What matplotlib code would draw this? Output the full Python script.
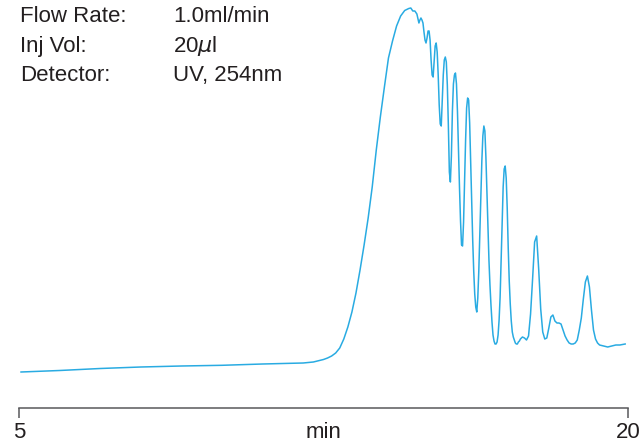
import matplotlib
matplotlib.use('Agg')
from matplotlib import pyplot as plt

plt.rcParams['font.family'] = ['Liberation Sans', 'DejaVu Sans']

# retention time (min)
time_min = [5.05, 6.0, 7.0, 8.0, 9.0, 10.0, 11.0, 11.5, 12.0, 12.25,
            12.5, 12.6, 12.7, 12.8, 12.9, 13.0, 13.1, 13.2, 13.3, 13.4,
            13.5, 13.6, 13.7, 13.8, 13.9, 14.0, 14.1, 14.2, 14.3, 14.4,
            14.5, 14.6, 14.65, 14.7, 14.75, 14.8,
            14.85, 14.875, 14.9, 14.925, 14.95, 14.975, 15.0, 15.025, 15.05, 15.075,
            15.1, 15.125, 15.15, 15.175, 15.2, 15.225, 15.25, 15.275, 15.3, 15.325,
            15.35, 15.375, 15.4, 15.425, 15.45, 15.475, 15.5, 15.525, 15.55, 15.575,
            15.6, 15.625, 15.65, 15.675, 15.7, 15.725, 15.75, 15.775, 15.8, 15.825,
            15.85, 15.875, 15.9, 15.925, 15.95, 15.975, 16.0, 16.025, 16.05, 16.075,
            16.1, 16.125, 16.15, 16.175, 16.2, 16.225, 16.25, 16.275, 16.3, 16.325,
            16.35, 16.375, 16.4, 16.425, 16.45, 16.475, 16.5, 16.525, 16.55, 16.575,
            16.6, 16.625, 16.65, 16.675, 16.7, 16.725, 16.75, 16.775, 16.8, 16.825,
            16.85, 16.875, 16.9, 16.925, 16.95, 16.975, 17.0, 17.025, 17.05, 17.075,
            17.1, 17.125, 17.15, 17.175, 17.2, 17.225, 17.25, 17.275, 17.3, 17.325,
            17.35, 17.4, 17.45, 17.5, 17.55, 17.6, 17.65, 17.7, 17.75, 17.8,
            17.85, 17.9, 17.95, 18.0, 18.05, 18.1, 18.15, 18.2, 18.25, 18.3,
            18.35, 18.4, 18.45, 18.5, 18.55, 18.6, 18.65, 18.7, 18.75, 18.8,
            18.85, 18.9, 18.95, 19.0, 19.05, 19.1, 19.15, 19.2, 19.25, 19.3,
            19.4, 19.5, 19.6, 19.7, 19.8, 19.93]
# UV 254nm response (arbitrary units)
signal = [36, 37.5, 39.5, 41, 42, 42.7, 44, 44.5, 45, 46,
          48.5, 50, 52, 55, 60, 69, 81, 96, 115, 138,
          163, 190, 221, 258, 291, 321, 350, 367, 382, 392,
          397.5, 399.5, 400, 397, 397, 394,
          385, 388, 390, 388, 385, 376, 368, 365, 370, 377,
          377, 368, 348, 333, 331, 346, 362, 365, 356, 333,
          303, 284, 282, 308, 333, 348, 351, 346, 323, 283,
          236, 226, 252, 297, 324, 333, 335, 324, 296, 258,
          220, 187, 163, 162, 186, 226, 268, 300, 310, 308,
          285, 245, 205, 168, 137, 114, 101, 96, 110, 137,
          175, 212, 247, 272, 282, 277, 251, 216, 181, 148,
          123, 103, 86, 73, 67, 64, 64, 66, 73, 88,
          111, 148, 188, 221, 239, 242, 230, 200, 160, 127,
          104, 87, 76, 71, 68, 65, 64, 64, 66, 67,
          69, 71, 70, 68, 72, 94, 129, 166, 172, 139,
          99, 76, 69, 70, 80, 91, 93, 87, 85, 85,
          84, 78, 72, 68, 65, 64, 64, 65, 68, 78,
          90, 109, 126, 132, 121, 98, 78, 69, 65, 63,
          62, 61, 62, 63, 63, 64]

tick_pos = [5, 20]
tick_text = ['5', '20']

fig = plt.figure(figsize=(6.4, 4.44), dpi=100)
ax = fig.add_axes([19 / 640, 36 / 444, 609 / 640, 408 / 444])

ax.plot(time_min, signal, color='#29ABE2', lw=1.1)

ax.set_xlim(5, 20)
ax.set_ylim(0, 408)
for s in ['top', 'left', 'right']:
    ax.spines[s].set_visible(False)
ax.spines['bottom'].set_color('#58595B')
ax.spines['bottom'].set_linewidth(1.1)
ax.set_yticks([])
ax.set_xticks(tick_pos)
ax.set_xticklabels(tick_text, fontsize=16, color='#231F20')
ax.tick_params(axis='x', length=7.2, width=1.1, color='#58595B', pad=3)
ax.set_xlabel('min', fontsize=16, color='#231F20', labelpad=-15.5)

# run conditions
info_left = ['Flow Rate:', 'Inj Vol:', 'Detector:']
info_right = ['1.0ml/min', '20$\\mu$l', 'UV, 254nm']
for i in range(3):
    yy = 1 - (22 + 29.7 * i) / 444
    fig.text(20 / 640, yy, info_left[i], fontsize=16,
             color='#231F20', va='baseline')
    fig.text(173 / 640, yy, info_right[i], fontsize=16,
             color='#231F20', va='baseline')

fig.savefig('out.png', dpi=100)
